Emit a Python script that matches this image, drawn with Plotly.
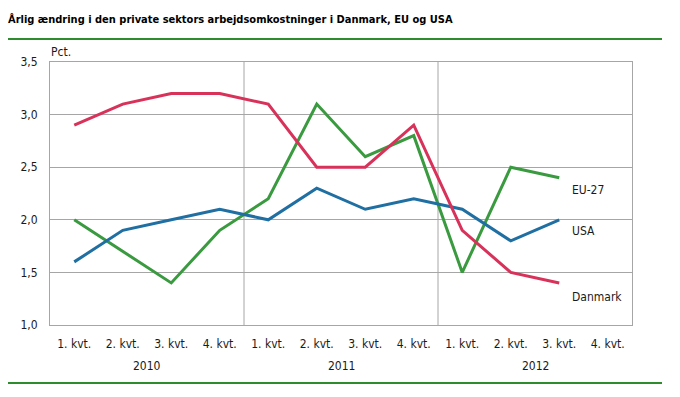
import plotly.graph_objects as go

quarters = ["1. kvt.", "2. kvt.", "3. kvt.", "4. kvt."] * 3
years = ["2010", "2011", "2012"]
danmark = [2.9, 3.1, 3.2, 3.2, 3.1, 2.5, 2.5, 2.9, 1.9, 1.5, 1.4]
eu27 = [2.0, 1.7, 1.4, 1.9, 2.2, 3.1, 2.6, 2.8, 1.5, 2.5, 2.4]
usa = [1.6, 1.9, 2.0, 2.1, 2.0, 2.3, 2.1, 2.2, 2.1, 1.8, 2.0]
yticks = [1.0, 1.5, 2.0, 2.5, 3.0, 3.5]
ytick_text = ["1,0", "1,5", "2,0", "2,5", "3,0", "3,5"]

FONT = "DejaVu Sans Condensed, sans-serif"
C_DK = "#D8325A"
C_EU = "#3A9A3F"
C_US = "#1F6FA3"
GRID = "#A6A6A6"

# page body has an 8px default margin; compensate
W, H = 672, 389
L, R, T, B = 42, 48, 54, 72
PW, PH = W - L - R, H - T - B

xs = list(range(len(quarters)))
fig = go.Figure()
for name, vals, col in [("EU-27", eu27, C_EU), ("USA", usa, C_US), ("Danmark", danmark, C_DK)]:
    fig.add_trace(go.Scatter(x=xs[:len(vals)], y=vals, mode="lines", name=name,
                             line=dict(color=col, width=3), showlegend=False))

fig.update_layout(
    width=W, height=H,
    margin=dict(l=L, r=R, t=T, b=B, autoexpand=False),
    paper_bgcolor="white", plot_bgcolor="white",
    font=dict(family=FONT, size=12, color="#1a1a1a"),
    xaxis=dict(range=[-0.5, len(quarters) - 0.5], tickmode="array", tickvals=xs,
               ticktext=quarters, showgrid=False, zeroline=False,
               showline=True, linecolor=GRID, linewidth=1, mirror=True,
               ticks="", ticklabelstandoff=8, tickfont=dict(size=12)),
    yaxis=dict(range=[1.0, 3.5], tickmode="array", tickvals=yticks, ticktext=ytick_text,
               showgrid=True, gridcolor=GRID, gridwidth=1, zeroline=False,
               showline=True, linecolor=GRID, linewidth=1, mirror=True,
               ticks="", ticklabelstandoff=9, tickfont=dict(size=12)),
)

for xv in [3.5, 7.5]:
    fig.add_shape(type="line", xref="x", yref="paper", x0=xv, x1=xv, y0=0, y1=1,
                  line=dict(color=GRID, width=1), layer="below")

for i, yr in enumerate(years):
    fig.add_annotation(x=i * 4 + 1.5, y=0, xref="x", yref="paper", yshift=-41,
                       text=yr, showarrow=False, font=dict(size=12), yanchor="middle")

# series labels
last = len(danmark) - 1
for name, vals, col, ys in [("EU-27", eu27, C_EU, -12), ("USA", usa, C_US, -11), ("Danmark", danmark, C_DK, -14)]:
    fig.add_annotation(x=last, y=vals[-1], xref="x", yref="y", text=name, showarrow=False,
                       xanchor="left", yshift=ys, xshift=11, font=dict(size=12))

fig.add_annotation(x=0, y=1, xref="paper", yref="paper", text="Pct.", showarrow=False,
                   font=dict(size=12), xanchor="left", yanchor="middle", xshift=-1, yshift=10)

fig.add_annotation(x=0, y=1, xref="paper", yref="paper",
                   text="<b>Årlig ændring i den private sektors arbejdsomkostninger i Danmark, EU og USA</b>",
                   showarrow=False, xanchor="left", yanchor="middle", xshift=-44, yshift=43,
                   font=dict(size=11, color="#000"))

# green rules
fig.add_shape(type="line", xref="paper", yref="paper", x0=-43 / PW, x1=612 / PW,
              y0=1 + 23 / PH, y1=1 + 23 / PH, line=dict(color="#2E8B2E", width=2))
fig.add_shape(type="line", xref="paper", yref="paper", x0=-50 / PW, x1=612 / PW,
              y0=-58 / PH, y1=-58 / PH, line=dict(color="#2E8B2E", width=2))

fig.write_html("out.html")
